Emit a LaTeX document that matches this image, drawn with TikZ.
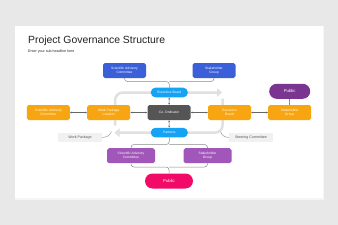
\documentclass[tikz,border=0pt]{standalone}
\usepackage{fontspec}
\setmainfont{Liberation Sans}
\usetikzlibrary{arrows.meta,calc}
\definecolor{bgc}{HTML}{E9E8E9}
\definecolor{blueb}{HTML}{3A5FD9}
\definecolor{cyanb}{HTML}{16A3F3}
\definecolor{darkb}{HTML}{555555}
\definecolor{orangeb}{HTML}{F8A512}
\definecolor{purpd}{HTML}{7A3590}
\definecolor{purpl}{HTML}{A157B9}
\definecolor{pinkb}{HTML}{F20A68}
\definecolor{loopc}{HTML}{E0E0E0}
\definecolor{labc}{HTML}{F1F1F1}
\definecolor{linec}{HTML}{8A8A8A}
\definecolor{arrc}{HTML}{666666}
\definecolor{titc}{HTML}{222222}
\begin{document}
\begin{tikzpicture}[x=1pt,y=-1pt,
  box/.style={rounded corners=1.8pt, minimum width=43pt, minimum height=15pt, inner sep=0pt,
    align=center, text=white, font=\fontsize{3.3}{4}\selectfont},
  wbox/.style={box, minimum width=48pt},
  smallpill/.style={rounded corners=4.5pt, minimum width=37pt, minimum height=9.6pt, inner sep=0pt,
    align=center, text=white, font=\fontsize{3.3}{4}\selectfont},
  bigpill/.style={rounded corners=7.5pt, minimum width=41pt, minimum height=15pt, inner sep=0pt,
    align=center, text=white, font=\fontsize{4.3}{5}\selectfont},
  tag/.style={fill=labc, minimum width=44pt, minimum height=9pt, inner sep=0pt,
    text=darkb, font=\fontsize{3.6}{4}\selectfont},
  loop/.style={draw=loopc, line width=2.5pt, rounded corners=8pt,
    -{Triangle[length=5pt,width=8.5pt]}},
  brace/.style={draw=linec, line width=0.5pt, rounded corners=3pt},
  link/.style={draw=arrc, line width=0.4pt, {Stealth[length=2pt,width=1.8pt]}-{Stealth[length=2pt,width=1.8pt]}},
  plain/.style={draw=linec, line width=0.5pt},
  thin/.style={draw=linec, line width=0.4pt}
]
\useasboundingbox (0,0) rectangle (338,225);
\fill[bgc] (0,0) rectangle (338,225);
% slide shadow
\fill[black!6] (15.5,26.8) rectangle (323.8,199.2);
\fill[black!4] (14.8,26.3) rectangle (324.4,199.8);
\fill[white] (15,26) rectangle (323,198);

% title
\node[anchor=base west, inner sep=0pt, text=titc, font=\fontsize{10.4}{12}\selectfont] (title) at (28,43.4) {Project Governance Structure};
\node[anchor=base west, inner sep=0pt, text=titc, font=\fontsize{3.6}{4}\selectfont] (sub) at (28,52.5) {Enter your sub headline here};

% big loop arrows
\coordinate (lb) at (115,125.5);
\coordinate (lt) at (115,92.5);
\coordinate (rtip) at (222,92.5);
\coordinate (rt) at (222.7,98.5);
\coordinate (rb) at (222.7,132.7);
\coordinate (ltip) at (114.5,132.7);
\draw[loop] (lb) -- (lt) -- (rtip);
\draw[loop] (rt) -- (rb) -- (ltip);

% nodes
\node[box, fill=blueb] (sacB) at (124.5,70.5) {Scientific Advisory\\Committee};
\node[box, fill=blueb] (sgB) at (214,70.5) {Stakeholder\\Group};
\node[smallpill, fill=cyanb] (exb) at (169.3,92.5) {Executive Board};
\node[box, fill=darkb] (coo) at (169,112.5) {Co- Ordinator};
\node[box, fill=orangeb] (wpl) at (108.7,112.5) {Work Package\\Leaders};
\node[box, fill=orangeb] (sacO) at (48.3,112.5) {Scientific Advisory\\Committee};
\node[box, fill=orangeb] (exO) at (229.5,112.5) {Executive\\Board};
\node[box, fill=orangeb] (sgO) at (289.7,112.5) {Stakeholder\\Group};
\node[bigpill, fill=purpd] (pubT) at (289.7,91.3) {Public};
\node[smallpill, fill=cyanb] (par) at (169.3,132.6) {Partners};
\node[tag] (wplab) at (80,137.4) {Work Package};
\node[tag] (stlab) at (251,137.4) {Steering Committee};
\node[wbox, fill=purpl] (sacP) at (131,155.7) {Scientific Advisory\\Committee};
\node[wbox, fill=purpl] (sgP) at (207.5,155.7) {Stakeholder\\Group};
\node[bigpill, fill=pinkb, minimum width=48pt] (pubB) at (169,181) {Public};

% braces
\coordinate (bt) at (169.3,81.5);
\draw[brace] (sacB.south) |- (bt) -- (exb.north);
\draw[brace] (sgB.south) |- (bt);
\coordinate (bm) at (169.3,144.5);
\draw[brace] (par.south) -- (bm) -| (sacP.north);
\draw[brace] (bm) -| (sgP.north);
\coordinate (bb) at (169,167);
\draw[brace] (sacP.south) |- (bb) -- (pubB.north);
\draw[brace] (sgP.south) |- (bb);

% links
\draw[link] (sacO) -- (wpl);
\draw[link] (wpl) -- (coo);
\draw[link] (coo) -- (exO);
\draw[link] (exO) -- (sgO);
\draw[link] (exb) -- (coo);
\draw[link] (coo) -- (par);
\draw[plain] (pubT) -- (sgO);

% tag connectors
\coordinate (wpe) at (111.5,131.5);
\coordinate (ste) at (220.5,131.5);
\draw[thin] (wplab.east) .. controls (107,137.5) and (110.5,135) .. (wpe);
\draw[thin] (stlab.west) .. controls (224.5,137.5) and (221.5,135) .. (ste);
\end{tikzpicture}
\end{document}
